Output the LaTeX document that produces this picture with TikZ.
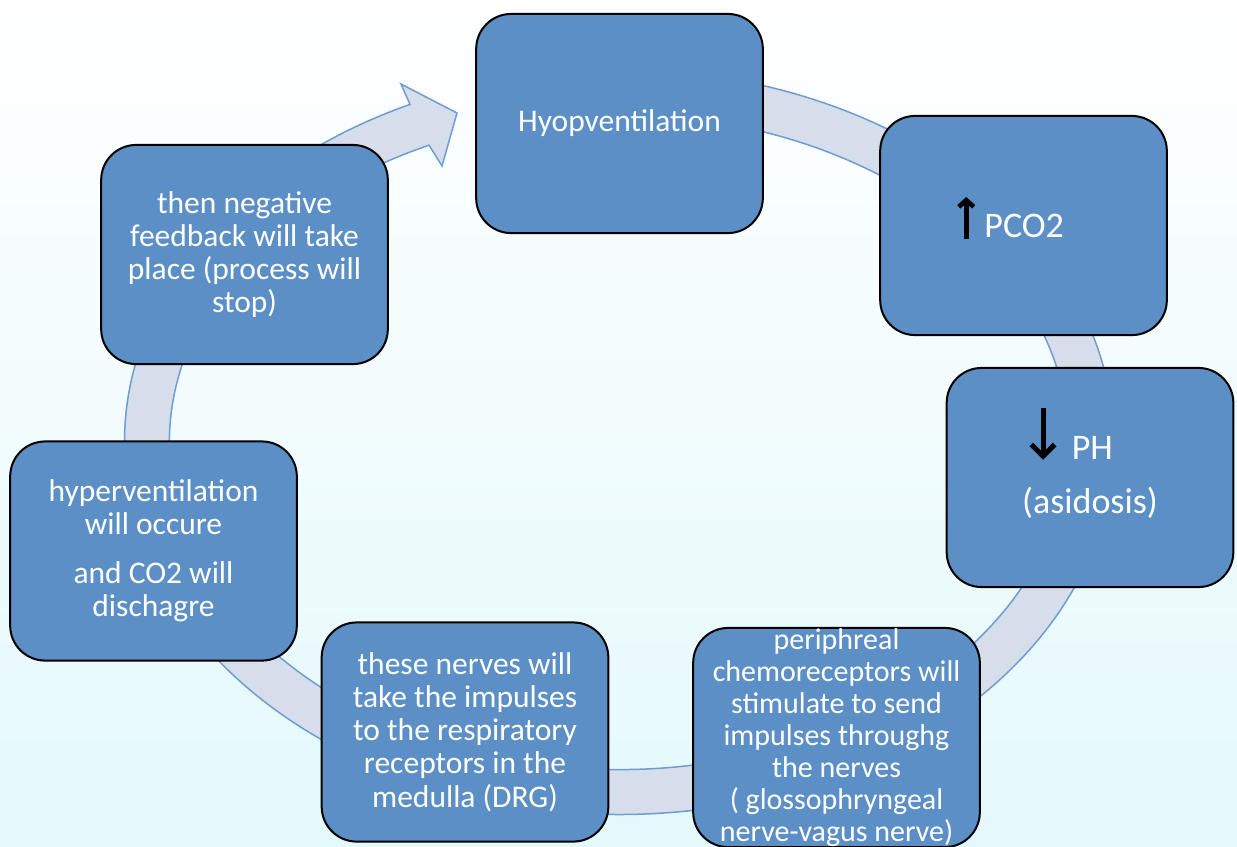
\documentclass[tikz,border=0pt]{standalone}
\usepackage{fontspec}
\setmainfont{Carlito}
\usetikzlibrary{arrows.meta,calc}
\definecolor{boxblue}{HTML}{5B8FC6}
\definecolor{ringfill}{HTML}{D6DEEB}
\definecolor{ringline}{HTML}{6E9CD3}
\definecolor{bgcyan}{HTML}{E4F9FB}
\newcommand\uparr{\smash{\tikz[baseline=0pt]\draw[black,line width=2.8pt,-{Straight Barb[length=4pt,width=9pt]}] (0pt,-1pt) -- (0pt,24pt);}}
\newcommand\downarr{\smash{\tikz[baseline=0pt]\draw[black,line width=3pt,-{Straight Barb[length=7pt,width=14pt]}] (0pt,31pt) -- (0pt,0pt);}}
\begin{document}
\begin{tikzpicture}[x=0.6pt,y=-0.6pt,
	box/.style={draw=black,line width=1.2pt,fill=boxblue,rounded corners=21pt,
		minimum width=172pt,minimum height=131.5pt,inner sep=0pt,
		text=white,align=center,font=\fontsize{18.9}{19.9}\selectfont},
	bigtext/.style={font=\fontsize{21.6}{22.7}\selectfont},
	ring/.style={fill=ringfill,draw=ringline,line width=0.9pt}]
	\useasboundingbox (0,0) rectangle (1237,846);
	\shade[top color=white,middle color=white,bottom color=bgcyan] (0,0) rectangle (1237,846);
	% the ring arrow behind the boxes
	\coordinate (c) at (619,442);
	\draw[ring] ($(c)+(270:494.5 and 372.5)$)
		arc[start angle=270,end angle=605,x radius=494.5,y radius=372.5]
		-- (401,84) -- (457,113) -- (442,166)
		-- ($(c)+(245:449.5 and 327.5)$)
		arc[start angle=605,end angle=270,x radius=449.5,y radius=327.5] -- cycle;
	% the steps
	\node[box] (hypo) at (619.5,123.5) {\raisebox{-3pt}{Hyopventilation}};
	\node[box,bigtext] (pco) at (1023.5,225.5) {\uparr\hspace{5pt}PCO2\hspace*{16pt}};
	\node[box,bigtext] (ph) at (1090,477.5) {\downarr\hspace{8.7pt}PH\hspace*{23pt}\\[9.5pt](asidosis)};
	\node[box,font=\fontsize{18}{19.2}\selectfont] (peri) at (836.5,737.5) {periphreal\\chemoreceptors will\\stimulate to send\\impulses throughg\\the nerves\\( glossophryngeal\\nerve-vagus nerve)};
	\node[box] (nerves) at (465,732) {these nerves will\\take the impulses\\to the respiratory\\receptors in the\\medulla (DRG)};
	\node[box] (hyper) at (153.5,551) {hyperventilation\\will occure\\[9.6pt]and CO2 will\\dischagre};
	\node[box] (neg) at (244.5,254.5) {then negative\\feedback will take\\place (process will\\stop)};
\end{tikzpicture}
\end{document}
